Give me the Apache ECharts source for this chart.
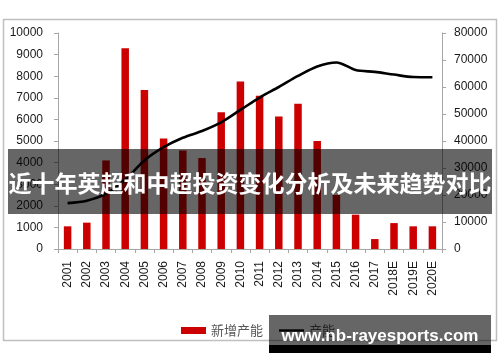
<!DOCTYPE html>
<html>
<head>
<meta charset="utf-8">
<script src="https://cdn.jsdelivr.net/npm/echarts@6/dist/echarts.min.js"></script>
<style>
  html, body { margin: 0; padding: 0; background: #ffffff; }
  #chart { width: 500px; height: 362px; }
</style>
</head>
<body>
<div id="chart"></div>
<script>
const categories = ['2001','2002','2003','2004','2005','2006','2007','2008','2009','2010',
  '2011','2012','2013','2014','2015','2016','2017','2018E','2019E','2020E'];
const newCapacity = [1050, 1220, 4100, 9290, 7360, 5120, 4560, 4210, 6330, 7750,
  7090, 6130, 6720, 5000, 2500, 1590, 460, 1200, 1050, 1050];
const capacity = [17000, 17900, 20500, 25700, 32800, 37700, 41200, 43700, 46900, 51500,
  56100, 60000, 64100, 67600, 69100, 66300, 65600, 64600, 63700, 63600];
const seriesNames = ['新增产能', '产能'];
const leftAxis = { min: 0, max: 10000, interval: 1000 };
const rightAxis = { min: 0, max: 80000, interval: 10000 };
const titleText = '近十年英超和中超投资变化分析及未来趋势对比';
const watermarkText = 'www.nb-rayesports.com';

const chart = echarts.init(document.getElementById('chart'), null, { renderer: 'canvas' });
const axisLineStyle = { color: '#a6a6a6', width: 1 };
const labelStyle = { color: '#1a1a1a', fontSize: 12, fontFamily: 'Liberation Sans, Arial, sans-serif' };
const plainNum = function (v) { return String(v); };

chart.setOption({
  animation: false,
  backgroundColor: '#ffffff',
  grid: { left: 58, right: 58, top: 33, bottom: 113 },
  legend: {
    left: 176, top: 319,
    itemWidth: 25, itemHeight: 7, itemGap: 16,
    symbolKeepAspect: true,
    textStyle: { color: '#595959', fontSize: 13, fontFamily: 'Noto Sans CJK SC' },
    data: [
      { name: seriesNames[0], icon: 'rect' },
      { name: seriesNames[1], icon: 'path://M0,0 L30,0 L30,2.8 L0,2.8 Z', itemStyle: { color: '#000000' } }
    ]
  },
  xAxis: {
    type: 'category',
    data: categories,
    boundaryGap: true,
    axisLine: { lineStyle: axisLineStyle },
    axisTick: { show: true, length: 4, alignWithLabel: false, lineStyle: axisLineStyle },
    axisLabel: Object.assign({ rotate: 90, margin: 12, interval: 0 }, labelStyle),
    splitLine: { show: false }
  },
  yAxis: [
    {
      type: 'value', min: leftAxis.min, max: leftAxis.max, interval: leftAxis.interval,
      position: 'left',
      axisLine: { show: true, lineStyle: axisLineStyle },
      axisTick: { show: true, length: 4, lineStyle: axisLineStyle },
      axisLabel: Object.assign({ margin: 15, formatter: plainNum }, labelStyle),
      splitLine: { show: false }
    },
    {
      type: 'value', min: rightAxis.min, max: rightAxis.max, interval: rightAxis.interval,
      position: 'right',
      axisLine: { show: true, lineStyle: axisLineStyle },
      axisTick: { show: true, length: 4, lineStyle: axisLineStyle },
      axisLabel: Object.assign({ margin: 12, formatter: plainNum }, labelStyle),
      splitLine: { show: false }
    }
  ],
  series: [
    {
      name: seriesNames[0], type: 'bar', yAxisIndex: 0,
      data: newCapacity, barWidth: 7.5,
      itemStyle: { color: '#CC0000' }
    },
    {
      name: seriesNames[1], type: 'line', yAxisIndex: 1,
      data: capacity, smooth: 0.3, symbol: 'none',
      lineStyle: { color: '#000000', width: 2.6 },
      itemStyle: { color: '#000000' }
    }
  ],
  graphic: [
    { type: 'rect', z: 50, silent: true,
      shape: { x: 3.5, y: 19.5, width: 493, height: 321 },
      style: { fill: null, stroke: '#bfbfbf', lineWidth: 1.5 } },
    { type: 'rect', z: 100, silent: true,
      shape: { x: 8, y: 149, width: 484, height: 65 },
      style: { fill: 'rgba(0,0,0,0.6)' } },
    { type: 'text', z: 101, silent: true, x: 250, y: 183,
      style: { text: titleText, fill: '#ffffff', textAlign: 'center', textVerticalAlign: 'middle',
        font: 'bold 23px "Noto Sans CJK SC"' } },
    { type: 'rect', z: 100, silent: true,
      shape: { x: 269, y: 315, width: 222, height: 30 },
      style: { fill: 'rgba(0,0,0,0.6)' } },
    { type: 'rect', z: 100, silent: true,
      shape: { x: 269, y: 345, width: 222, height: 8 },
      style: { fill: '#000000' } },
    { type: 'text', z: 101, silent: true, x: 380, y: 336.5,
      style: { text: watermarkText, fill: '#ffffff', textAlign: 'center', textVerticalAlign: 'middle',
        font: 'bold 17px "Liberation Sans", Arial, sans-serif' } }
  ]
});
</script>
</body>
</html>
